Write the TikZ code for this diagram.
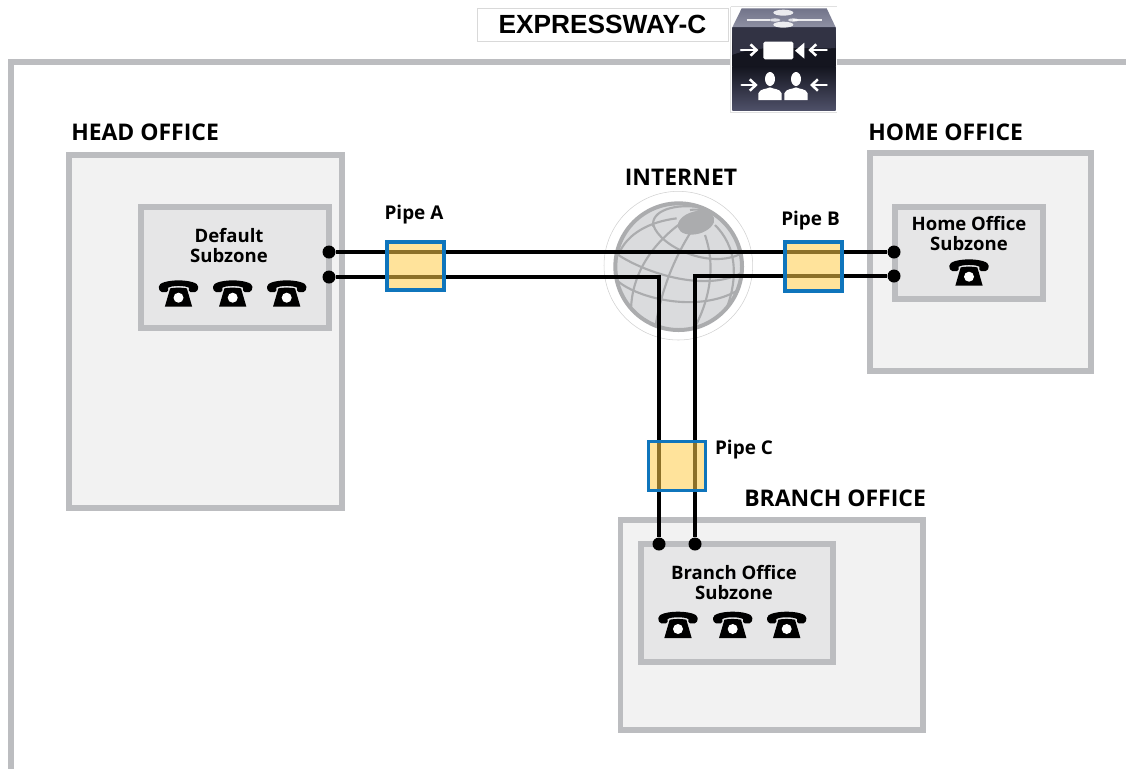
\documentclass[tikz,border=0pt]{standalone}
\usepackage{fontspec}
\setmainfont{Open Sans}
\newfontfamily\titlefont{Liberation Sans}
\usetikzlibrary{fit,arrows.meta}
\definecolor{boxline}{HTML}{BCBDC0}
\definecolor{officefill}{HTML}{F2F2F2}
\definecolor{subfill}{HTML}{E6E6E7}
\definecolor{pipeline}{HTML}{0F75BC}
\definecolor{pipefill}{HTML}{FFCD49}
\definecolor{globeline}{HTML}{ABACAE}
\definecolor{globefill}{HTML}{DADBDD}
\definecolor{icontopA}{HTML}{72748A}
\definecolor{icontopB}{HTML}{8E90A3}
\definecolor{iconA}{HTML}{4A4C63}
\definecolor{iconB}{HTML}{14151F}
\definecolor{iconC}{HTML}{4E5068}
\tikzset{
  x=0.75pt,y=-0.75pt,
  office/.style={draw=boxline,fill=officefill,line width=4.4pt,inner sep=0pt},
  subzone/.style={draw=boxline,fill=subfill,line width=4.2pt,inner sep=0pt},
  pipebox/.style={draw=pipeline,fill=pipefill,fill opacity=0.55,line width=2.6pt,inner sep=0pt},
  wire/.style={draw=black,line width=2.4pt},
  dot/.style={circle,fill=black,inner sep=0pt,minimum size=9.75pt},
  bighead/.style={font=\fontsize{17.2}{20}\selectfont\bfseries,inner sep=0pt},
  sublabel/.style={font=\fontsize{13.9}{14.8}\selectfont\bfseries,inner sep=0pt,align=center},
  pipelabel/.style={font=\fontsize{14.2}{15}\selectfont\bfseries,inner sep=0pt},
  gl/.style={draw=globeline,line width=1.6pt},
  gw/.style={draw=white,line width=1.9pt,line cap=round},
  gwa/.style={gw,-{Straight Barb[length=4.5pt,width=8.5pt,line width=1.9pt]}},
}
% phone: origin = bottom centre of the base; coordinates are in 1/3 px
\newcommand{\phoneicon}[2]{%
 \begin{scope}[shift={(#1,#2)},scale=1/3]
  \fill[black] (-59,-60) .. controls (-60,-72) and (-30,-79) .. (0,-79)
     .. controls (30,-79) and (60,-72) .. (59,-60)
     .. controls (59,-50) and (55,-45) .. (50,-44) -- (36,-44)
     .. controls (31,-45) and (30,-50) .. (31,-57)
     .. controls (20,-64) and (-20,-64) .. (-31,-57)
     .. controls (-30,-50) and (-31,-45) .. (-36,-44) -- (-50,-44)
     .. controls (-55,-45) and (-59,-50) .. (-59,-60) -- cycle;
  \fill[black] (-41,0) -- (-27,-48) -- (-25,-55) .. controls (-10,-58) and (10,-58) .. (25,-55) -- (27,-48) -- (41,0) -- cycle;
  \fill[white] (0,-27) circle (15);
 \end{scope}}
\begin{document}
\begin{tikzpicture}
\useasboundingbox (0,0) rectangle (1126,769);
\fill[white] (0,0) rectangle (1126,769);

% outer frame
\draw[boxline,line width=4.3pt] (1126,62) -- (11,62) -- (11,769);

% title
\node[draw=black!15,line width=0.6pt,fill=white,fit={(477,8)(728,41)},inner sep=0pt] (titlebox) {};
\node[font=\titlefont\fontsize{19.7}{20}\selectfont\bfseries,inner sep=0pt] (title) at (602.5,24) {EXPRESSWAY-C};

% expressway icon (coordinates in 1/3 px from the crop origin)
\begin{scope}[shift={(725,0)},scale=1/3]
  \fill[white] (17,20) rectangle (337,337);
  \draw[black!12,line width=0.5pt] (17,20) -- (337,20) (17,20) -- (17,337) -- (337,337);
  \shade[top color=icontopA,bottom color=icontopB] (50,25) -- (305,25) -- (332,82) -- (22,82) -- cycle;
  \shade[top color=iconA,bottom color=iconB,middle color=iconB] (22,82) rectangle (332,200);
  \fill[iconA!55!iconB] (22,82) -- (332,82) -- (332,145) .. controls (220,150) and (120,130) .. (22,165) -- cycle;
  \shade[top color=iconB,bottom color=iconC] (22,200) rectangle (332,330);
  \fill[iconB] (22,165) .. controls (120,130) and (220,150) .. (332,145) -- (332,200) -- (22,200) -- cycle;
  % top face symbol
  \draw[white,opacity=.85,line width=1.2pt] (65,60) -- (135,60) (205,60) -- (290,60);
  \fill[white,opacity=.85] (175,38) ellipse (30 and 9) (175,74) ellipse (30 and 9);
  \fill[white,opacity=.75] (150,60) ellipse (16 and 5) (205,60) ellipse (16 and 5);
  % camera
  \fill[white,rounded corners=1.2pt] (115,125) rectangle (205,178);
  \fill[white] (210,152) -- (238,128) -- (238,176) -- cycle;
  \draw[gwa] (48,150) -- (100,150);
  \draw[gwa] (305,150) -- (250,150);
  % people
  \fill[white] (135,237) ellipse (15 and 21);
  \fill[white] (100,300) -- (100,280) .. controls (105,265) and (125,268) .. (135,262) .. controls (145,268) and (165,265) .. (170,280) -- (170,300) -- cycle;
  \fill[white] (213,237) ellipse (15 and 21);
  \fill[white] (178,300) -- (178,280) .. controls (183,265) and (203,268) .. (213,262) .. controls (223,268) and (243,265) .. (248,280) -- (248,300) -- cycle;
  \draw[gwa] (50,255) -- (98,255);
  \draw[gwa] (305,255) -- (255,255);
\end{scope}

% offices
\node[office,fit={(69,155)(342,508)}] (head) {};
\node[office,fit={(870,153)(1091,371)}] (home) {};
\node[office,fit={(620.5,520)(923,730)}] (branch) {};
\node[subzone,fit={(141,207)(329,328)}] (headsub) {};
\node[subzone,fit={(895,207)(1043,299)}] (homesub) {};
\node[subzone,fit={(641,544)(833,662)}] (branchsub) {};

% labels
\node[bighead,anchor=west] (headlabel) at (71,132.5) {HEAD OFFICE};
\node[bighead,anchor=west] (homelabel) at (868,132.5) {HOME OFFICE};
\node[bighead,anchor=west] (branchlabel) at (744,498) {BRANCH OFFICE};
\node[bighead] (netlabel) at (681,177) {INTERNET};
\node[pipelabel] (pipeAlabel) at (414,215) {Pipe A};
\node[pipelabel] (pipeBlabel) at (810.5,221) {Pipe B};
\node[pipelabel] (pipeClabel) at (744,450) {Pipe C};
\node[sublabel] (headsublabel) at (229,245.5) {Default\\Subzone};
\node[sublabel] (homesublabel) at (969,233.5) {Home Office\\Subzone};
\node[sublabel] (branchsublabel) at (734,582.5) {Branch Office\\Subzone};

% phones
\phoneicon{178.5}{306.7}
\phoneicon{232.7}{306.7}
\phoneicon{286.7}{306.7}
\phoneicon{969}{285.7}
\phoneicon{678}{638}
\phoneicon{732.7}{638}
\phoneicon{786.7}{638}

% globe (coordinates in 1/3 px from the crop origin)
\begin{scope}[shift={(590,190)},scale=1/3]
  \draw[black!18,line width=0.4pt] (265,227) circle (223);
  \fill[globefill] (266,230) circle (190);
  \begin{scope}
    \clip (266,230) circle (190);
    % parallels
    \draw[gl] (190,110) .. controls (180,60) and (260,40) .. (330,52);
    \draw[gl] (190,105) .. controls (210,170) and (360,240) .. (455,190);
    \draw[gl] (260,85) .. controls (180,95) and (110,130) .. (85,195);
    \draw[gl] (85,195) .. controls (170,250) and (350,310) .. (462,245);
    \draw[gl] (72,262) .. controls (120,320) and (320,375) .. (445,300);
    \draw[gl] (105,375) .. controls (170,420) and (260,425) .. (300,420);
    % meridians
    \draw[gl] (300,130) .. controls (250,210) and (210,310) .. (195,420);
    \draw[gl] (265,105) .. controls (180,170) and (110,270) .. (125,400);
    \draw[gl] (345,135) .. controls (375,220) and (365,320) .. (310,420);
    \draw[gl] (375,105) .. controls (440,170) and (445,260) .. (410,355);
    \draw[gl] (300,60) .. controls (360,50) and (420,100) .. (445,160);
  \end{scope}
  \fill[globeline,rotate around={15:(318,98)}] (318,98) ellipse (56 and 34);
  \draw[globeline,line width=3pt] (266,230) circle (190);
\end{scope}

% end points
\node[dot] (d1) at (329,252) {};
\node[dot] (d2) at (329,277) {};
\node[dot] (d3) at (894,252) {};
\node[dot] (d4) at (894,276) {};
\node[dot] (d5) at (659,544) {};
\node[dot] (d6) at (695,544) {};

% connectors
\draw[wire] (d1) -- (d3);
\draw[wire] (d2) -| (d5);
\draw[wire] (d4) -| (d6);

% pipes
\node[pipebox,fit={(387,242)(444,290)}] (pipeA) {};
\node[pipebox,fit={(785,242)(842,291)}] (pipeB) {};
\node[pipebox,fit={(648.5,441.5)(705.5,490.5)}] (pipeC) {};
\end{tikzpicture}
\end{document}
